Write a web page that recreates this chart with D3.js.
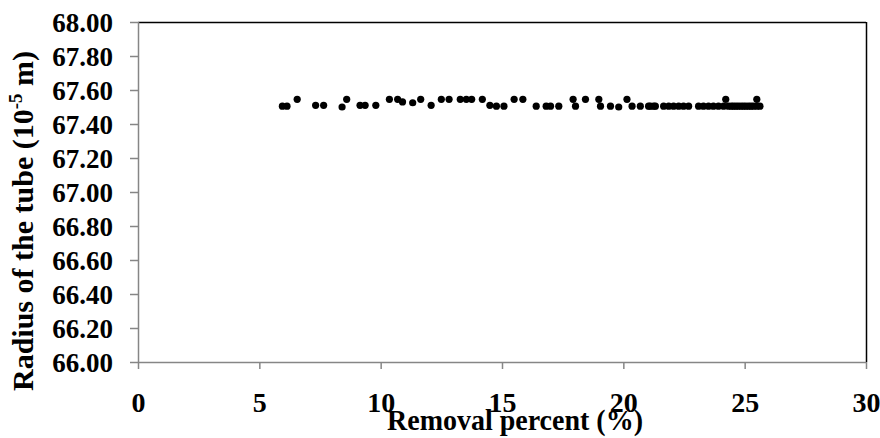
<!DOCTYPE html>
<html><head><meta charset="utf-8">
<script src="https://cdn.jsdelivr.net/npm/d3@7"></script>
<style>body{margin:0;background:#fff}svg{display:block}</style>
</head><body>
<svg id="c" width="880" height="438"></svg>
<script>
const xValues = [5.95,6.14,6.56,7.32,7.65,8.41,8.60,9.15,9.36,9.80,10.36,10.70,10.90,11.32,11.65,12.08,12.50,12.82,13.28,13.53,13.75,14.19,14.50,14.77,15.08,15.50,15.86,16.41,16.82,17.00,17.34,17.93,18.03,18.44,18.99,19.06,19.47,19.81,20.15,20.36,20.70,21.04,21.25,
  21.11,21.32,21.66,21.87,22.07,22.28,22.48,22.69,23.10,23.30,23.51,23.71,23.92,24.13,24.22,24.33,24.45,24.54,24.64,24.74,24.85,24.95,25.05,25.16,25.26,25.36,25.50,25.50,25.63];
const yValues = [67.505,67.505,67.545,67.51,67.51,67.50,67.545,67.51,67.51,67.51,67.545,67.545,67.53,67.525,67.545,67.51,67.545,67.545,67.545,67.545,67.545,67.545,67.51,67.505,67.505,67.545,67.545,67.505,67.505,67.505,67.505,67.545,67.505,67.545,67.545,67.505,67.505,67.50,67.545,67.505,67.505,67.505,67.505,
  67.505,67.505,67.505,67.505,67.505,67.505,67.505,67.505,67.505,67.505,67.505,67.505,67.505,67.505,67.545,67.505,67.505,67.505,67.505,67.505,67.505,67.505,67.505,67.505,67.505,67.505,67.545,67.505,67.505];
const xTicks = [0,5,10,15,20,25,30];
const yTicks = [66.00,66.20,66.40,66.60,66.80,67.00,67.20,67.40,67.60,67.80,68.00];

const svg = d3.select('#c');
const L = 138, R = 866, T = 22, B = 362;
const x = d3.scaleLinear().domain([0,30]).range([L,R]);
const y = d3.scaleLinear().domain([66,68]).range([B,T]);
const font = '"Liberation Serif","Times New Roman",serif';
const gray = '#868686';

svg.append('line').attr('x1',L).attr('x2',R).attr('y1',T+0.5).attr('y2',T+0.5).attr('stroke','#000').attr('stroke-width',1.5);
svg.append('line').attr('x1',R+0.5).attr('x2',R+0.5).attr('y1',T).attr('y2',B).attr('stroke','#000').attr('stroke-width',1.5);

const gx = svg.append('g').attr('transform',`translate(0,${B})`)
  .call(d3.axisBottom(x).tickValues(xTicks).tickSize(7).tickFormat(d3.format('d')));
const gy = svg.append('g').attr('transform',`translate(${L},0)`)
  .call(d3.axisLeft(y).tickValues(yTicks).tickSize(8).tickFormat(d3.format('.2f')));
[gx,gy].forEach(g=>{
  g.selectAll('path,line').attr('stroke',gray).attr('stroke-width',1.5);
  g.selectAll('text').attr('fill','#000').attr('font-family',font).attr('font-weight','bold');
});
gx.selectAll('path').attr('d',`M${L},0.5H${R}`);
gy.selectAll('path').attr('d',`M0.5,${T}V${B}`);
gx.selectAll('text').attr('font-size',28).attr('dy',0).attr('y',50);
gy.selectAll('text').attr('font-size',27).attr('x',-25).attr('dy','0.35em');

svg.append('g').selectAll('circle').data(xValues.map((v,i)=>[v,yValues[i]])).join('circle')
  .attr('cx',d=>x(d[0])).attr('cy',d=>y(d[1])).attr('r',3.6).attr('fill','#000');

svg.append('text').attr('x',515).attr('y',430).attr('text-anchor','middle')
  .attr('font-family',font).attr('font-weight','bold').attr('font-size',29)
  .attr('textLength',256).attr('lengthAdjust','spacingAndGlyphs')
  .text('Removal percent (%)');

const yt = svg.append('text').attr('transform','translate(33,221) rotate(-90)').attr('text-anchor','middle')
  .attr('font-family',font).attr('font-weight','bold').attr('font-size',30);
yt.append('tspan').text('Radius of the tube (10');
yt.append('tspan').attr('font-size',19).attr('dy',-11).text('-5');
yt.append('tspan').attr('dy',11).text(' m)');
</script>
</body></html>
